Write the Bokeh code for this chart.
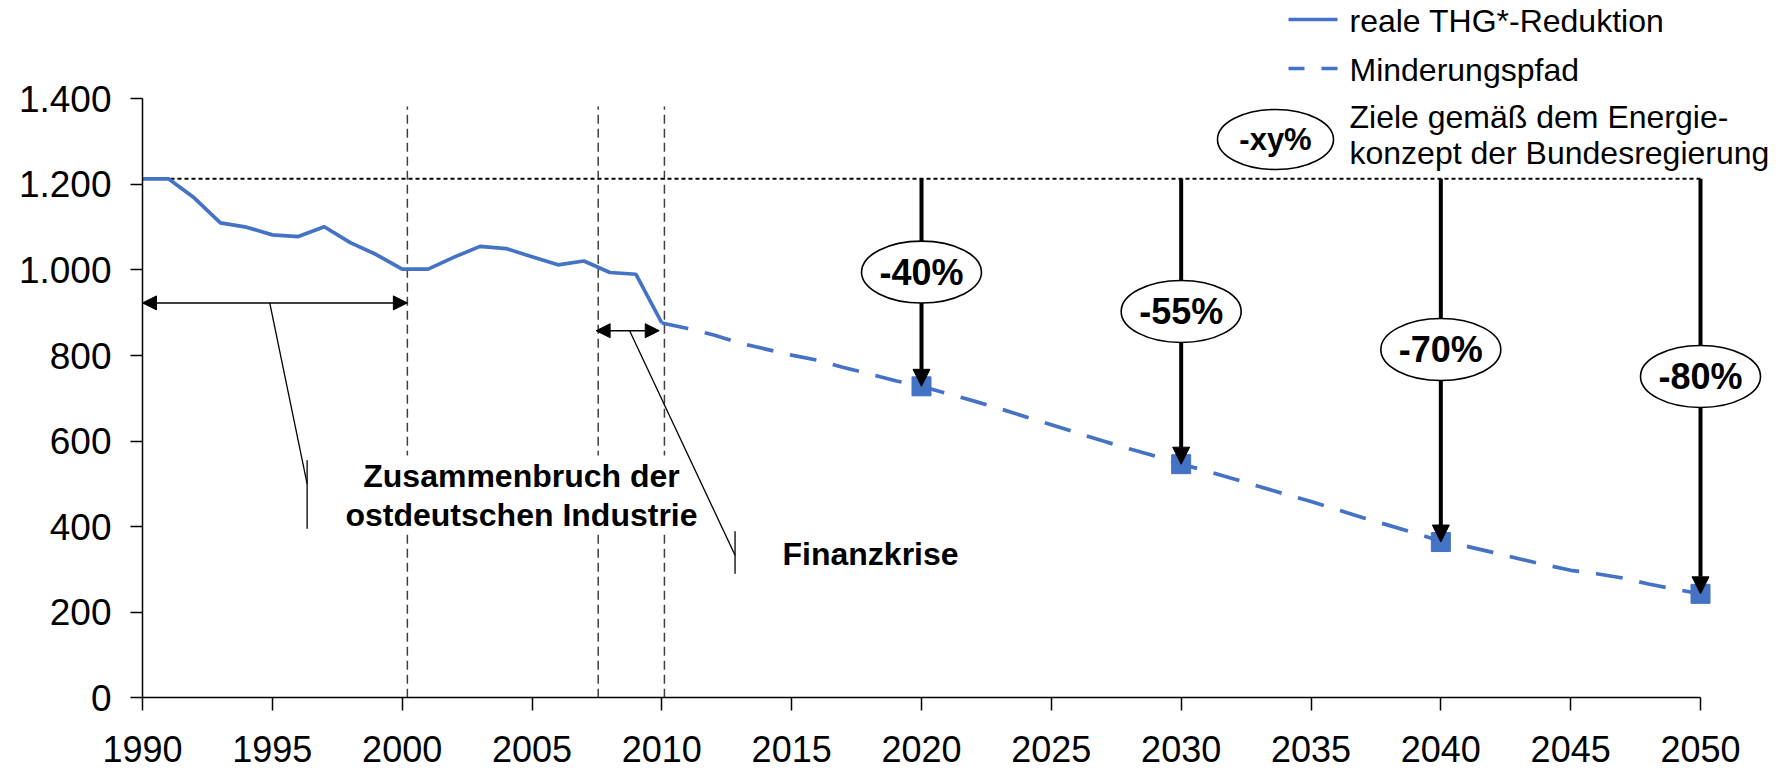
from bokeh.plotting import figure
from bokeh.models import Range1d, FixedTicker, Arrow, NormalHead, ColumnDataSource
from bokeh.embed import file_html
from bokeh.resources import INLINE
from bokeh.core.properties import value

# ---------------- data ----------------
real_years = list(range(1990, 2011))
real_values = [1213, 1213, 1168, 1110, 1100, 1082, 1078, 1101, 1064, 1036,
               1002, 1002, 1030, 1055, 1050, 1031, 1012, 1021, 994, 990, 876]

path_years = list(range(2010, 2051))
path_values = [876, 863, 848, 829, 815, 801, 789, 772, 757, 741,
               728, 711, 694, 676, 657, 638, 619, 600, 582, 565,
               546, 530, 512, 494, 476, 459, 440, 421, 403, 385,
               366, 354, 340, 325, 311, 298, 290, 280, 266, 254,
               243]

base_value = 1213
target_years = [2020, 2030, 2040, 2050]
target_values = [728, 546, 364, 243]
target_labels = ["-40%", "-55%", "-70%", "-80%"]

event_years = [2000.2, 2007.55, 2010.1]

x_ticks = list(range(1990, 2051, 5))
y_ticks = [0, 200, 400, 600, 800, 1000, 1200, 1400]
y_tick_labels = ["0", "200", "400", "600", "800", "1.000", "1.200", "1.400"]

legend_labels = ["reale THG*-Reduktion", "Minderungspfad",
                 "Ziele gemäß dem Energie-", "konzept der Bundesregierung"]
legend_badge = "-xy%"
note_crash = ["Zusammenbruch der", "ostdeutschen Industrie"]
note_crisis = "Finanzkrise"

# ---------------- layout ----------------
BLUE = "#4472C4"
FONT = "Liberation Sans"
W, H = 1785, 771
PX0, PX1 = 142.0, 1700.0      # page x of 1990 / 2050
PY0, PY1 = 697.3, 98.3        # page y of 0 / 1400
ppx = (PX1 - PX0) / 60.0
ppy = (PY0 - PY1) / 1400.0
x_start = 1990 - PX0 / ppx
x_end = x_start + W / ppx
y_end = 1400 + PY1 / ppy
y_start = y_end - H / ppy


def dx(px):
    return x_start + px / ppx


def dy(py):
    return y_end - py / ppy


p = figure(width=W, height=H, x_range=Range1d(x_start, x_end),
           y_range=Range1d(y_start, y_end), output_backend="svg",
           toolbar_location=None, min_border=0, outline_line_color=None)
p.xgrid.visible = False
p.ygrid.visible = False
p.background_fill_color = "white"
p.border_fill_color = "white"

xa = p.xaxis[0]
xa.fixed_location = 0
xa.bounds = (1990, 2050)
xa.ticker = FixedTicker(ticks=x_ticks)
ya = p.yaxis[0]
ya.fixed_location = 1990
ya.bounds = (0, 1400)
ya.ticker = FixedTicker(ticks=y_ticks)
ya.major_label_overrides = {t: l for t, l in zip(y_ticks, y_tick_labels)}
for ax in (xa, ya):
    ax.axis_line_color = "black"
    ax.axis_line_width = 1.5
    ax.major_tick_line_color = "black"
    ax.major_tick_line_width = 1.5
    ax.major_tick_in = 0
    ax.minor_tick_line_color = None
    ax.major_label_text_font = FONT
    ax.major_label_text_color = "black"
xa.major_label_text_font_size = "36px"
ya.major_label_text_font_size = "37px"
xa.major_tick_out = 13
xa.major_label_standoff = 25
ya.major_tick_out = 12
ya.major_label_standoff = 19

# event lines (dashed verticals)
p.segment(x0=event_years, y0=[0] * 3, x1=event_years, y1=[1382] * 3,
          line_color="#404040", line_width=1.5, line_dash="9 5")

# base-year reference line
p.segment(x0=[1990], y0=[base_value], x1=[2050], y1=[base_value],
          line_color="black", line_width=2, line_dash="4 3")

# series
p.line(real_years, real_values, line_color=BLUE, line_width=3.7)
p.line(path_years, path_values, line_color=BLUE, line_width=3.7,
       line_dash="27 17")
p.scatter(target_years, target_values, marker="square", size=19,
          fill_color=BLUE, line_color=BLUE)

# text box masking the event lines
p.quad(left=[dx(338)], right=[dx(702)], top=[dy(455)], bottom=[dy(533)],
       fill_color="white", line_color=None)
p.text(x=[dx(521), dx(521)], y=[dy(475), dy(514)], text=note_crash,
       text_font=value(FONT), text_font_style="bold", text_font_size="32px",
       text_align="center", text_baseline="middle", text_color="black")
p.text(x=[dx(782)], y=[dy(553)], text=[note_crisis],
       text_font=value(FONT), text_font_style="bold", text_font_size="32px",
       text_align="left", text_baseline="middle", text_color="black")

# leader lines
p.segment(x0=[1994.9, 1996.34, 2008.76, 2012.82],
          y0=[923, 555, 858, 389],
          x1=[1996.34, 1996.34, 2012.82, 2012.82],
          y1=[500, 395, 333, 290],
          line_color="black", line_width=1.3)

# double arrows (period markers)
for xs, xe, yy in [(1990, 2000.2, 923), (2007.47, 2009.9, 858)]:
    p.add_layout(Arrow(x_start=xs, y_start=yy, x_end=xe, y_end=yy,
                       line_color="black", line_width=1.5,
                       start=NormalHead(size=14, fill_color="black", line_color="black", line_width=1),
                       end=NormalHead(size=14, fill_color="black", line_color="black", line_width=1)))

# target arrows: body as glyph (below the ellipses), head as annotation
HEAD = 17
head_len = HEAD / ppy
p.segment(x0=target_years, y0=[base_value] * 4, x1=target_years,
          y1=[v + head_len for v in target_values],
          line_color="black", line_width=4)
head_src = ColumnDataSource(dict(x0=target_years,
                                 y0=[v + head_len for v in target_values],
                                 x1=target_years, y1=target_values))
p.add_layout(Arrow(x_start="x0", y_start="y0", x_end="x1", y_end="y1",
                   source=head_src, line_color=None,
                   end=NormalHead(size=HEAD, fill_color="black", line_color="black", line_width=1)))

label_y = [995, 903, 814, 751]
p.ellipse(x=target_years, y=label_y, width=120, height=62,
          width_units="screen", height_units="screen",
          fill_color="white", line_color="black", line_width=1.6)
p.text(x=target_years, y=label_y, text=target_labels,
       text_font=value(FONT), text_font_style="bold", text_font_size="36px",
       text_align="center", text_baseline="middle", text_color="black")

# legend (top right)
p.line([dx(1288), dx(1337)], [dy(19), dy(19)], line_color=BLUE, line_width=3.7)
p.line([dx(1288), dx(1337)], [dy(68), dy(68)], line_color=BLUE, line_width=3.7,
       line_dash="16 17")
p.text(x=[dx(1349)] * 4, y=[dy(20.5), dy(69.5), dy(116.5), dy(152)],
       text=legend_labels, text_font=value(FONT), text_font_size="32px",
       text_align="left", text_baseline="middle", text_color="black")
p.ellipse(x=[dx(1275)], y=[dy(139)], width=116, height=60,
          width_units="screen", height_units="screen",
          fill_color="white", line_color="black", line_width=1.6)
p.text(x=[dx(1275)], y=[dy(139)], text=[legend_badge],
       text_font=value(FONT), text_font_style="bold", text_font_size="31px",
       text_align="center", text_baseline="middle", text_color="black")

open("out.html", "w").write(file_html(p, INLINE))
